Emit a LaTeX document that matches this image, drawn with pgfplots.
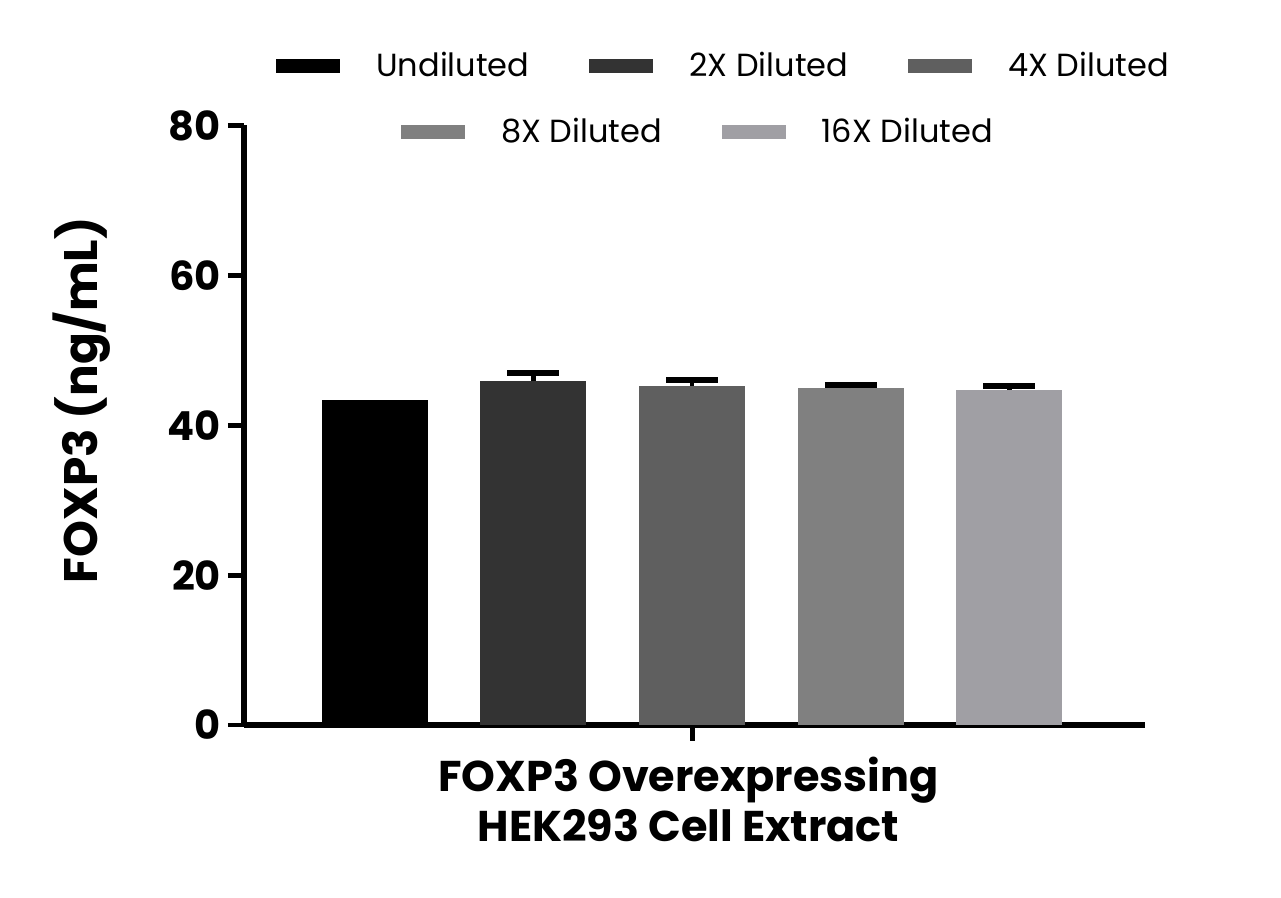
\documentclass[border=0pt]{standalone}
\usepackage{pgfplots}
\pgfplotsset{compat=1.18}
\usepackage{fontspec}
\setmainfont{Poppins}

\definecolor{undil}{RGB}{0,0,0}
\definecolor{dil2}{RGB}{51,51,51}
\definecolor{dil4}{RGB}{95,95,95}
\definecolor{dil8}{RGB}{128,128,128}
\definecolor{dil16}{RGB}{160,159,164}

\pgfplotsset{
  common/.style={
    scale only axis, width=450.5pt, height=299.75pt,
    at={(122pt,86.5pt)}, anchor=south west,
    xmin=-0.825, xmax=4.855, ymin=0, ymax=80,
  },
  swatch/.style={legend image code/.code={\fill[##1] (0pt,-3.5pt) rectangle (32pt,3.5pt);}},
  legstyle/.style={legend style={draw=none, fill=none, inner sep=0pt, anchor=west,
      font=\fontsize{16}{19}\selectfont, nodes={inner sep=0pt},
      /tikz/every odd column/.append style={column sep=18pt},
      /tikz/every even column/.append style={column sep=30pt}}},
  bars/.style={ybar, bar width=53pt, bar shift=0pt, draw=none},
  errs/.style={error bars/.cd, y dir=plus, y explicit,
      error bar style={line width=2.2pt, black},
      error mark options={rotate=90, mark size=13pt, line width=3pt, black},
      /pgfplots/.cd},
}

\begin{document}
\begin{tikzpicture}
\useasboundingbox (0,0) rectangle (640.5pt,449pt);

\begin{axis}[common, swatch, legstyle, legend columns=3,
    legend style={at={(axis description cs:0.0355,1.0993)}},
    axis x line=bottom, axis y line=left,
    axis line style={-, line width=2.8pt},
    tick align=outside, major tick length=8pt,
    tick style={line width=2.4pt, black},
    xtick={2}, xticklabels={},
    ytick={0,20,40,60,80},
    /pgf/number format/assume math mode=true,
    yticklabel style={font=\bfseries\fontsize{20}{24}\selectfont},
    ylabel={FOXP3 (ng/mL)},
    ylabel style={font=\bfseries\fontsize{23.5}{28}\selectfont,
        at={(axis description cs:-0.1807,0.542)}, anchor=center},
    xlabel={FOXP3 Overexpressing\\HEK293 Cell Extract},
    xlabel style={font=\bfseries\fontsize{21.5}{25}\selectfont, align=center,
        at={(axis description cs:0.4933,-0.042)}, anchor=north},
  ]
\addplot[bars, fill=undil] coordinates {(0,43.37)};
\addlegendentry{Undiluted}
\addplot[bars, fill=dil2, errs] coordinates {(1,45.90) +- (0,1.07)};
\addlegendentry{2X Diluted}
\addplot[bars, fill=dil4, errs] coordinates {(2,45.28) +- (0,0.80)};
\addlegendentry{4X Diluted}
\addplot[forget plot, bars, fill=dil8, errs] coordinates {(3,44.97) +- (0,0.40)};
\addplot[forget plot, bars, fill=dil16, errs] coordinates {(4,44.70) +- (0,0.54)};
\end{axis}

\begin{axis}[common, hide axis, swatch, legstyle, legend columns=2,
    legend style={at={(axis description cs:0.174,0.989)}}]
\addlegendimage{fill=dil8, draw=none}
\addlegendentry{8X Diluted}
\addlegendimage{fill=dil16, draw=none}
\addlegendentry{16X Diluted}
\end{axis}
\end{tikzpicture}
\end{document}
